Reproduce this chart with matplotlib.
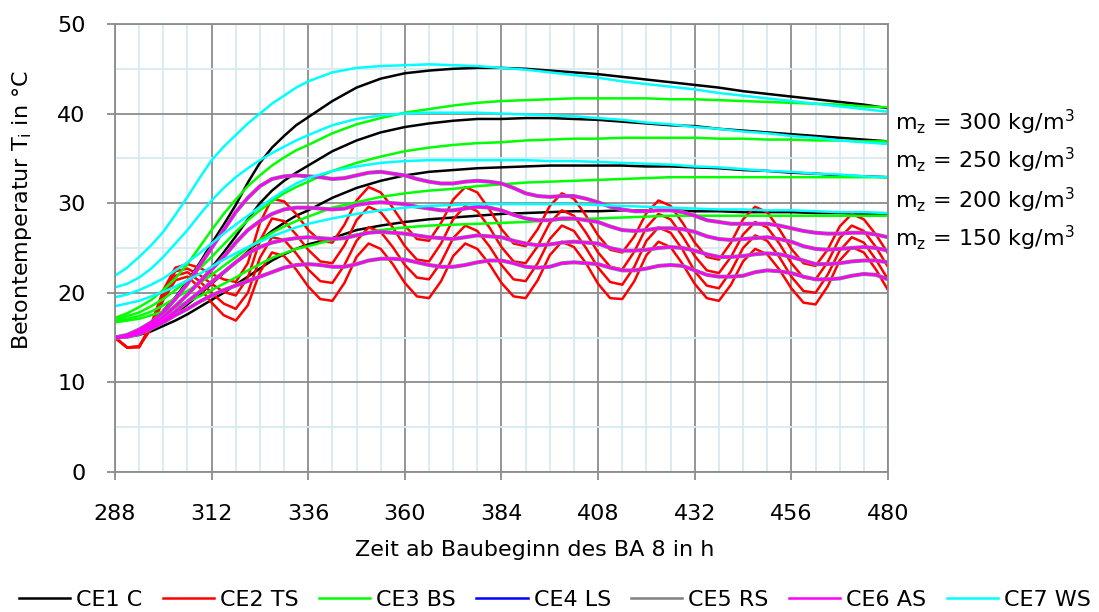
import matplotlib.pyplot as plt
from matplotlib.ticker import MultipleLocator

plt.rcParams["font.family"] = "DejaVu Sans"
plt.rcParams["mathtext.default"] = "regular"

# sample times in hours after start of construction
# smooth curves: 3 h steps during the warm-up, 6 h steps afterwards
hours_smooth = list(range(288, 337, 3)) + list(range(342, 481, 6))
hours_3h = list(range(288, 481, 3))

mix_labels = ["300", "250", "200", "150"]
mix_label_y = [39.0, 34.8, 30.3, 26.1]

# CE1 C
c_300 = [15.0, 15.2, 15.6, 16.6, 18.0, 19.5, 21.3, 23.3, 25.5, 27.6, 29.8, 32.3, 34.5, 36.2, 37.5, 38.7, 39.6,
         41.4, 42.9, 43.9, 44.5, 44.8, 45.0, 45.1, 45.1, 45.0, 44.8, 44.6, 44.4, 44.1, 43.8, 43.5, 43.2, 42.9,
         42.5, 42.2, 41.9, 41.6, 41.3, 41.0, 40.6]
c_250 = [15.0, 15.2, 15.5, 16.3, 17.4, 18.5, 19.8, 21.2, 22.8, 24.5, 26.3, 28.2, 30.0, 31.4, 32.5, 33.4, 34.2,
         35.8, 37.0, 37.9, 38.5, 38.9, 39.2, 39.4, 39.4, 39.5, 39.5, 39.4, 39.3, 39.1, 38.9, 38.7, 38.6, 38.3,
         38.1, 37.9, 37.7, 37.5, 37.3, 37.1, 36.9]
c_200 = [15.0, 15.1, 15.4, 16.0, 16.8, 17.7, 18.7, 19.8, 21.0, 22.2, 23.4, 24.6, 25.8, 26.9, 27.8, 28.6, 29.2,
         30.6, 31.7, 32.5, 33.1, 33.5, 33.7, 33.9, 34.0, 34.1, 34.2, 34.2, 34.2, 34.2, 34.1, 34.1, 34.0, 33.9,
         33.7, 33.6, 33.4, 33.3, 33.1, 33.0, 32.9]
c_150 = [15.0, 15.1, 15.3, 15.7, 16.3, 16.9, 17.6, 18.4, 19.2, 20.0, 20.9, 21.8, 22.7, 23.6, 24.3, 24.9, 25.4,
         26.1, 27.0, 27.5, 27.9, 28.2, 28.4, 28.6, 28.8, 28.9, 29.0, 29.1, 29.1, 29.2, 29.2, 29.2, 29.1, 29.1,
         29.0, 29.0, 29.0, 28.9, 28.9, 28.8, 28.8]

# CE2 TS (3 h steps)
ts_300 = [15.0, 13.9, 13.9, 16.5, 20.3, 22.8, 23.2, 22.8, 22.1, 21.5, 21.2, 23.3, 27.8, 30.5, 30.2, 28.8, 27.0,
          25.8, 25.6, 27.6, 30.3, 31.8, 31.2, 29.5, 27.5, 26.0, 25.8, 27.8, 30.4, 31.8, 31.2, 29.3, 27.1, 25.5,
          25.2, 27.1, 29.7, 31.1, 30.5, 28.6, 26.4, 24.8, 24.5, 26.3, 28.9, 30.3, 29.7, 27.8, 25.6, 24.0, 23.7,
          25.6, 28.2, 29.6, 29.0, 27.1, 24.9, 23.3, 23.0, 24.8, 27.4, 28.8, 28.2, 26.5, 24.4]
ts_250 = [15.0, 13.9, 14.0, 16.4, 20.0, 22.4, 22.7, 22.0, 21.0, 20.1, 19.7, 21.7, 25.8, 28.3, 28.0, 26.5, 24.8,
          23.5, 23.3, 25.3, 28.1, 29.6, 29.0, 27.3, 25.2, 23.7, 23.5, 25.5, 28.2, 29.7, 29.1, 27.3, 25.1, 23.5,
          23.3, 25.2, 27.8, 29.2, 28.6, 26.7, 24.5, 22.9, 22.6, 24.6, 27.3, 28.8, 28.2, 26.3, 24.1, 22.5, 22.2,
          24.0, 26.5, 27.9, 27.3, 25.5, 23.3, 21.7, 21.5, 23.4, 26.1, 27.5, 26.9, 25.1, 22.9]
ts_200 = [15.0, 13.9, 14.0, 16.2, 19.6, 21.9, 22.3, 21.3, 20.0, 18.8, 18.2, 20.0, 23.9, 26.2, 25.9, 24.4, 22.6,
          21.3, 21.1, 23.1, 25.8, 27.3, 26.8, 25.1, 23.1, 21.7, 21.5, 23.4, 26.1, 27.5, 26.9, 25.2, 23.1, 21.5,
          21.3, 23.3, 26.0, 27.5, 26.9, 25.0, 22.8, 21.2, 20.9, 22.9, 25.8, 27.3, 26.7, 24.8, 22.4, 20.8, 20.5,
          22.4, 25.0, 26.4, 25.8, 24.0, 21.8, 20.2, 20.0, 22.0, 24.7, 26.2, 25.6, 23.7, 21.5]
ts_150 = [15.0, 13.9, 14.0, 16.0, 19.2, 21.4, 21.8, 20.6, 18.9, 17.5, 16.9, 18.6, 22.3, 24.5, 24.1, 22.6, 20.7,
          19.3, 19.1, 21.1, 24.0, 25.5, 24.9, 23.2, 21.1, 19.6, 19.4, 21.3, 24.1, 25.5, 24.9, 23.2, 21.1, 19.6,
          19.4, 21.4, 24.2, 25.7, 25.1, 23.3, 21.0, 19.4, 19.3, 21.3, 24.2, 25.7, 25.1, 23.2, 21.0, 19.4, 19.1,
          20.9, 23.5, 24.9, 24.3, 22.6, 20.5, 18.9, 18.7, 20.7, 23.6, 25.1, 24.5, 22.6, 20.3]

# CE3 BS
bs_300 = [17.2, 17.7, 18.4, 19.2, 20.3, 21.6, 23.2, 25.1, 27.0, 28.8, 30.4, 31.9, 33.1, 34.2, 35.1, 35.9, 36.5,
          37.8, 38.8, 39.5, 40.1, 40.5, 40.9, 41.2, 41.4, 41.5, 41.6, 41.7, 41.7, 41.7, 41.7, 41.6, 41.6, 41.5,
          41.4, 41.3, 41.2, 41.1, 41.0, 40.8, 40.7]
bs_250 = [17.0, 17.4, 17.8, 18.5, 19.3, 20.3, 21.4, 22.7, 24.0, 25.4, 26.8, 28.1, 29.2, 30.2, 31.1, 31.8, 32.4,
          33.6, 34.5, 35.2, 35.8, 36.2, 36.5, 36.7, 36.8, 37.0, 37.1, 37.2, 37.2, 37.3, 37.3, 37.3, 37.3, 37.2,
          37.2, 37.1, 37.1, 37.0, 37.0, 36.9, 36.9]
bs_200 = [16.8, 17.1, 17.4, 17.9, 18.6, 19.4, 20.2, 21.1, 22.0, 23.0, 24.0, 25.0, 25.9, 26.7, 27.4, 28.0, 28.5,
          29.5, 30.1, 30.7, 31.1, 31.4, 31.6, 31.9, 32.1, 32.3, 32.4, 32.5, 32.6, 32.7, 32.8, 32.9, 32.9, 32.9,
          32.9, 32.9, 32.9, 32.9, 32.9, 32.9, 32.9]
bs_150 = [16.7, 16.9, 17.1, 17.5, 17.9, 18.4, 19.0, 19.6, 20.3, 21.0, 21.7, 22.5, 23.2, 23.9, 24.4, 24.9, 25.2,
          25.9, 26.5, 27.0, 27.3, 27.5, 27.6, 27.7, 27.8, 27.9, 28.1, 28.2, 28.3, 28.4, 28.5, 28.6, 28.6, 28.6,
          28.6, 28.6, 28.6, 28.6, 28.6, 28.6, 28.6]

# CE6 AS (3 h steps); CE4 LS and CE5 RS run on the same values
as_300 = [15.0, 15.3, 15.9, 16.7, 17.8, 19.3, 21.0, 23.0, 25.0, 27.0, 29.0, 30.6, 31.9, 32.7, 33.0, 33.1, 33.0,
          32.9, 32.7, 32.8, 33.1, 33.4, 33.5, 33.3, 33.1, 32.7, 32.4, 32.2, 32.2, 32.4, 32.5, 32.4, 32.2, 31.7,
          31.1, 30.8, 30.7, 30.8, 30.8, 30.5, 30.1, 29.6, 29.3, 29.1, 29.1, 29.2, 29.2, 29.0, 28.6, 28.1, 27.9,
          27.7, 27.7, 27.7, 27.7, 27.5, 27.2, 26.9, 26.7, 26.6, 26.6, 26.7, 26.7, 26.5, 26.2]
as_250 = [15.0, 15.2, 15.7, 16.4, 17.3, 18.5, 19.8, 21.2, 22.6, 24.0, 25.6, 27.0, 28.0, 28.8, 29.3, 29.5, 29.5,
          29.4, 29.3, 29.4, 29.8, 30.0, 30.1, 30.0, 29.9, 29.6, 29.4, 29.2, 29.2, 29.4, 29.6, 29.5, 29.2, 28.7,
          28.3, 28.1, 28.1, 28.3, 28.3, 28.1, 27.9, 27.4, 27.0, 26.9, 27.0, 27.2, 27.2, 27.1, 26.8, 26.3, 26.0,
          25.9, 26.0, 26.1, 26.2, 26.0, 25.7, 25.2, 24.9, 24.8, 24.9, 25.0, 25.1, 25.0, 24.7]
as_200 = [15.0, 15.1, 15.5, 16.1, 16.9, 17.9, 19.0, 20.1, 21.2, 22.3, 23.4, 24.4, 25.1, 25.6, 25.9, 26.1, 26.2,
          26.1, 26.0, 26.1, 26.4, 26.7, 26.8, 26.7, 26.6, 26.4, 26.2, 26.1, 26.0, 26.2, 26.4, 26.3, 26.2, 25.8,
          25.5, 25.3, 25.4, 25.6, 25.7, 25.6, 25.5, 25.0, 24.7, 24.7, 24.8, 25.0, 25.1, 25.0, 24.7, 24.3, 24.0,
          24.0, 24.1, 24.3, 24.4, 24.3, 24.0, 23.6, 23.2, 23.2, 23.3, 23.5, 23.6, 23.6, 23.4]
as_150 = [15.0, 15.1, 15.4, 16.0, 16.7, 17.5, 18.2, 19.0, 19.7, 20.3, 20.8, 21.3, 21.8, 22.3, 22.8, 23.1, 23.2,
          23.1, 22.9, 22.9, 23.2, 23.6, 23.8, 23.8, 23.7, 23.4, 23.1, 22.9, 22.9, 23.1, 23.4, 23.6, 23.6, 23.3,
          22.9, 22.8, 22.9, 23.3, 23.4, 23.3, 23.2, 22.8, 22.5, 22.5, 22.7, 23.0, 23.1, 23.0, 22.5, 22.0, 21.8,
          21.8, 21.9, 22.3, 22.5, 22.4, 22.2, 21.8, 21.5, 21.5, 21.6, 21.9, 22.1, 22.0, 21.5]

# CE7 WS
ws_300 = [21.9, 22.8, 24.0, 25.3, 26.8, 28.7, 30.7, 32.8, 34.8, 36.3, 37.6, 38.9, 40.0, 41.1, 42.0, 42.9, 43.6,
          44.6, 45.1, 45.3, 45.4, 45.5, 45.4, 45.3, 45.1, 44.9, 44.6, 44.3, 44.0, 43.6, 43.3, 43.0, 42.7, 42.3,
          42.0, 41.7, 41.4, 41.1, 40.8, 40.5, 40.2]
ws_250 = [20.6, 21.0, 21.7, 22.7, 24.0, 25.5, 27.0, 28.7, 30.3, 31.7, 32.9, 33.9, 34.8, 35.6, 36.3, 37.0, 37.6,
          38.7, 39.4, 39.8, 40.0, 40.1, 40.1, 40.1, 40.0, 39.9, 39.8, 39.7, 39.5, 39.3, 39.0, 38.8, 38.5, 38.3,
          38.0, 37.8, 37.5, 37.3, 37.0, 36.8, 36.6]
ws_200 = [19.5, 19.8, 20.3, 20.9, 21.6, 22.5, 23.4, 24.4, 25.5, 26.6, 27.6, 28.6, 29.6, 30.5, 31.4, 32.2, 32.8,
          33.6, 34.1, 34.5, 34.7, 34.8, 34.8, 34.8, 34.8, 34.8, 34.7, 34.7, 34.6, 34.5, 34.4, 34.3, 34.1, 34.0,
          33.8, 33.6, 33.5, 33.3, 33.2, 33.0, 32.9]
ws_150 = [18.5, 18.8, 19.1, 19.6, 20.1, 20.7, 21.4, 22.1, 22.9, 23.7, 24.4, 25.1, 25.7, 26.3, 26.8, 27.3, 27.7,
          28.3, 28.8, 29.2, 29.5, 29.7, 29.8, 29.9, 29.9, 29.9, 29.9, 29.9, 29.8, 29.7, 29.6, 29.5, 29.4, 29.3,
          29.3, 29.2, 29.2, 29.1, 29.0, 29.0, 28.9]

cases = [
    ("CE1 C", "#000000", 1.8, hours_smooth, [c_300, c_250, c_200, c_150]),
    ("CE2 TS", "#ff0000", 1.8, hours_3h, [ts_300, ts_250, ts_200, ts_150]),
    ("CE3 BS", "#00ff00", 1.8, hours_smooth, [bs_300, bs_250, bs_200, bs_150]),
    ("CE4 LS", "#0000ff", 1.8, hours_3h, [as_300, as_250, as_200, as_150]),
    ("CE5 RS", "#808080", 2.9, hours_3h, [as_300, as_250, as_200, as_150]),
    ("CE6 AS", "#ff00ff", 1.8, hours_3h, [as_300, as_250, as_200, as_150]),
    ("CE7 WS", "#00ffff", 1.8, hours_smooth, [ws_300, ws_250, ws_200, ws_150]),
]

fig = plt.figure(figsize=(10.99, 6.12), dpi=100)
ax = fig.add_axes([0.1046, 0.2288, 0.7034, 0.732])

handles = []
for label, color, lw, hours, curves in cases:
    for values in curves:
        ax.plot(hours, values, color=color, lw=lw, solid_joinstyle="round", solid_capstyle="round")
    handles.append(plt.Line2D([], [], color=color, lw=1.8, label=label))

ax.set_xlim(288, 480)
ax.set_ylim(0, 50)
ax.xaxis.set_major_locator(MultipleLocator(24))
ax.xaxis.set_minor_locator(MultipleLocator(6))
ax.yaxis.set_major_locator(MultipleLocator(10))
ax.yaxis.set_minor_locator(MultipleLocator(5))
ax.set_axisbelow(True)
ax.grid(which="minor", color="#d5eaf2", lw=1.3)
ax.grid(which="major", color="#8c8c8c", lw=1.3)
for spine in ax.spines.values():
    spine.set_color("#8c8c8c")
    spine.set_linewidth(1.3)
ax.tick_params(which="major", direction="out", length=6, width=1.3, color="#8c8c8c", labelsize=16)
ax.tick_params(axis="x", which="major", pad=17)
ax.tick_params(axis="y", which="major", pad=15)
ax.tick_params(which="minor", length=0)

fig.text(535 / 1099, 1 - 550 / 612, "Zeit ab Baubeginn des BA 8 in h", fontsize=16,
         ha="center", va="center")
fig.text(22 / 1099, 1 - 210 / 612, "Betontemperatur T$_i$ in °C", fontsize=16,
         ha="center", va="center", rotation=90)

for mix, y in zip(mix_labels, mix_label_y):
    ax.text(481.8, y, "m$_z$ = " + mix + " kg/m$^3$", fontsize=16, va="center", ha="left",
            clip_on=False)

fig.legend(handles=handles, loc="center", ncol=7, frameon=False, fontsize=16,
           bbox_to_anchor=(0.505, 1 - 600 / 612), handlelength=2.3, handletextpad=0.27,
           columnspacing=0.92, borderaxespad=0, borderpad=0)

fig.savefig("out.png", dpi=100)
